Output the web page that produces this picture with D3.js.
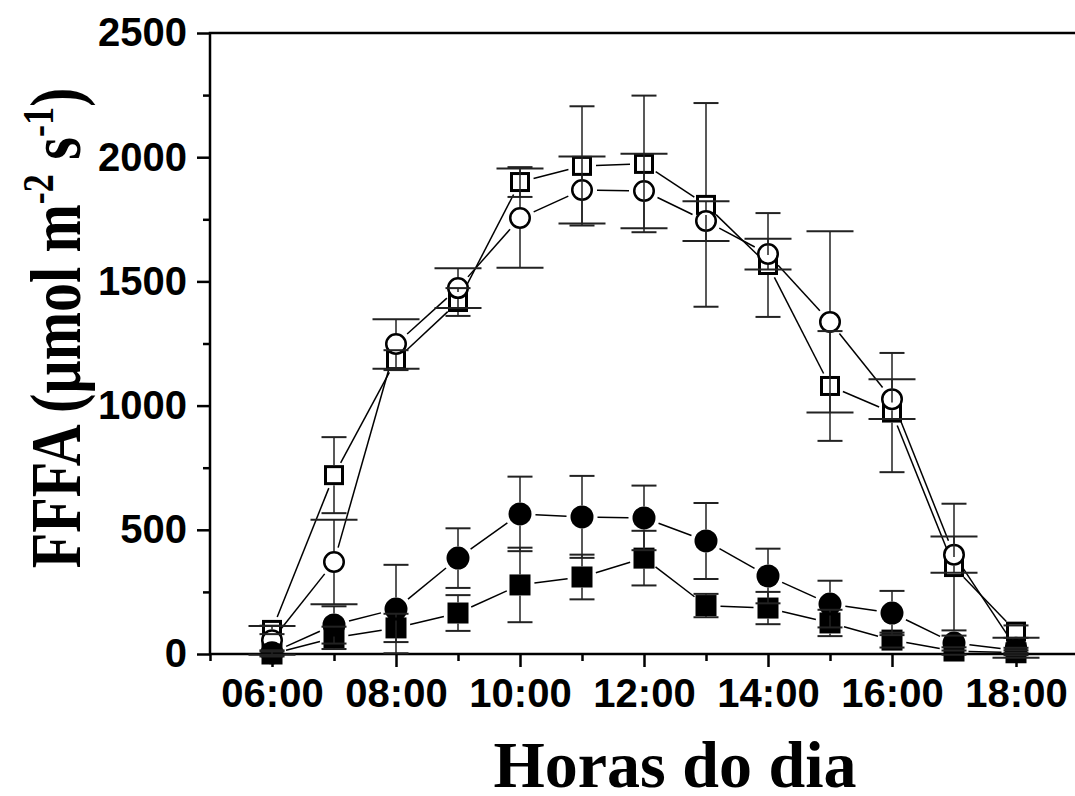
<!DOCTYPE html>
<html lang="pt">
<head>
<meta charset="UTF-8">
<script src="https://d3js.org/d3.v7.min.js"></script>
<title>FFFA</title>
<style>
  body { margin: 0; background: #fff; }
  svg { display: block; }
  .axis path { display: none; }
  .axis line { stroke: #000; stroke-width: 2.5px; }
  .axis text { font-family: "Liberation Sans", Arial, sans-serif; font-weight: bold; font-size: 40px; fill: #000; }
</style>
</head>
<body>
<svg id="chart" width="1075" height="796"></svg>
<script>
// hours of the day (decimal)
var hours = [6, 7, 8, 9, 10, 11, 12, 13, 14, 15, 16, 17, 18];
var xTickHours = [6, 8, 10, 12, 14, 16, 18];
var xMinorHours = [5, 7, 9, 11, 13, 15, 17, 19];
var yTicks = [0, 500, 1000, 1500, 2000, 2500];
var yMinor = [250, 750, 1250, 1750, 2250];

// series (open square, open circle, filled circle, filled square)
var openSquare    = [97, 720, 1183, 1417, 1900, 1965, 1973, 1808, 1566, 1079, 972, 350, 90];
var openSquareErr = [17, 153, 40, 56, 60, 240, 275, 410, 209, 221, 240, 255, 25];
var openCircle    = [55, 370, 1248, 1473, 1755, 1868, 1864, 1743, 1610, 1337, 1026, 400, 25];
var openCircleErr = [58, 170, 100, 80, 200, 135, 150, 80, 62, 365, 80, 73, 40];
var filledCircle    = [5, 117, 181, 386, 564, 552, 548, 455, 314, 201, 165, 44, 15];
var filledCircleErr = [10, 75, 178, 120, 150, 165, 130, 153, 110, 94, 89, 30, 10];
var filledSquare    = [0, 65, 105, 165, 278, 310, 386, 195, 185, 125, 56, 12, 5];
var filledSquareErr = [10, 45, 57, 72, 150, 90, 110, 47, 65, 53, 30, 15, 10];

var svg = d3.select("#chart");

var pLeft = 210, pRight = 1078, pTop = 33, pBottom = 654;

var x = d3.scaleLinear().domain([5, 19]).range([pLeft, pRight]);
var y = d3.scaleLinear().domain([0, 2500]).range([pBottom, pTop]);

var fmtHour = function(h){ return (h < 10 ? "0" : "") + h + ":00"; };

// axes
svg.append("g").attr("class", "axis")
  .attr("transform", "translate(0," + pBottom + ")")
  .call(d3.axisBottom(x).tickValues(xTickHours).tickSize(13).tickPadding(12).tickFormat(fmtHour));
svg.append("g").attr("class", "axis")
  .attr("transform", "translate(0," + pBottom + ")")
  .call(d3.axisBottom(x).tickValues(xMinorHours).tickSize(7).tickFormat(""));
svg.append("g").attr("class", "axis")
  .attr("transform", "translate(" + pLeft + ",0)")
  .call(d3.axisLeft(y).tickValues(yTicks).tickSize(13).tickPadding(10).tickFormat(d3.format("d")));
svg.append("g").attr("class", "axis")
  .attr("transform", "translate(" + pLeft + ",0)")
  .call(d3.axisLeft(y).tickValues(yMinor).tickSize(7).tickFormat(""));

// frame
svg.append("rect")
  .attr("x", pLeft).attr("y", pTop)
  .attr("width", pRight - pLeft).attr("height", pBottom - pTop)
  .attr("fill", "none").attr("stroke", "#000").attr("stroke-width", 2.5);

var series = [
  { v: openSquare,   e: openSquareErr,   shape: "square", fill: "#fff", r: 10,   cap: 25 },
  { v: openCircle,   e: openCircleErr,   shape: "circle", fill: "#fff", r: 11,   cap: 47 },
  { v: filledCircle, e: filledCircleErr, shape: "circle", fill: "#000", r: 11.5, cap: 25 },
  { v: filledSquare, e: filledSquareErr, shape: "square", fill: "#000", r: 10.5, cap: 25 }
];

var gap = 4;

// connecting lines, stopped short of the markers
var lineG = svg.append("g");
series.forEach(function(s){
  for (var i = 0; i < hours.length - 1; i++) {
    var x1 = x(hours[i]), y1 = y(s.v[i]), x2 = x(hours[i+1]), y2 = y(s.v[i+1]);
    var dx = x2 - x1, dy = y2 - y1, len = Math.sqrt(dx*dx + dy*dy);
    var cut = s.r + gap;
    if (len <= 2 * cut) continue;
    var ux = dx / len, uy = dy / len;
    lineG.append("line")
      .attr("x1", x1 + ux*cut).attr("y1", y1 + uy*cut)
      .attr("x2", x2 - ux*cut).attr("y2", y2 - uy*cut)
      .attr("stroke", "#000").attr("stroke-width", 1.5);
  }
});

// markers
var markG = svg.append("g");
series.forEach(function(s){
  var g = markG.append("g");
  if (s.shape === "circle") {
    g.selectAll("circle").data(s.v).enter().append("circle")
      .attr("cx", function(d,i){ return x(hours[i]); })
      .attr("cy", function(d){ return y(d); })
      .attr("r", s.fill === "#fff" ? s.r - 1.25 : s.r)
      .attr("fill", s.fill)
      .attr("stroke", "#000")
      .attr("stroke-width", s.fill === "#fff" ? 2.5 : 0);
  } else {
    var side = s.fill === "#fff" ? 2*s.r - 3 : 2*s.r;
    g.selectAll("rect").data(s.v).enter().append("rect")
      .attr("x", function(d,i){ return x(hours[i]) - side/2; })
      .attr("y", function(d){ return y(d) - side/2; })
      .attr("width", side).attr("height", side)
      .attr("fill", s.fill)
      .attr("stroke", "#000")
      .attr("stroke-width", s.fill === "#fff" ? 3 : 0);
  }
});

// error bars on top
var errG = svg.append("g").attr("stroke", "#222");
series.forEach(function(s){
  s.v.forEach(function(d, i){
    var cx = x(hours[i]);
    [1, -1].forEach(function(sign){
      var yEnd = y(d + sign * s.e[i]);
      var yStart = y(d) - sign * s.r;
      if (s.e[i] > 0 && Math.abs(yEnd - y(d)) > s.r) {
        errG.append("line")
          .attr("x1", cx).attr("x2", cx)
          .attr("y1", yStart).attr("y2", yEnd)
          .attr("stroke-width", 1.5);
      }
      errG.append("line")
        .attr("x1", cx - s.cap/2).attr("x2", cx + s.cap/2)
        .attr("y1", yEnd).attr("y2", yEnd)
        .attr("stroke-width", 2);
    });
  });
});

// axis titles
svg.append("text")
  .attr("x", 675).attr("y", 787)
  .attr("text-anchor", "middle")
  .style("font-family", "'Liberation Serif', 'Times New Roman', serif")
  .style("font-weight", "bold").style("font-size", "66px")
  .text("Horas do dia");

var yt = svg.append("text")
  .attr("transform", "translate(80,328) rotate(-90) scale(1,1.25)")
  .attr("text-anchor", "middle")
  .style("font-family", "'Liberation Serif', 'Times New Roman', serif")
  .style("font-weight", "bold").style("font-size", "58px");
yt.append("tspan").text("FFFA (µmol m");
yt.append("tspan").attr("dy", -22).style("font-size", "36px").text("-2");
yt.append("tspan").attr("dy", 22).text(" s");
yt.append("tspan").attr("dy", -22).style("font-size", "36px").text("-1");
yt.append("tspan").attr("dy", 22).text(")");
</script>
</body>
</html>
